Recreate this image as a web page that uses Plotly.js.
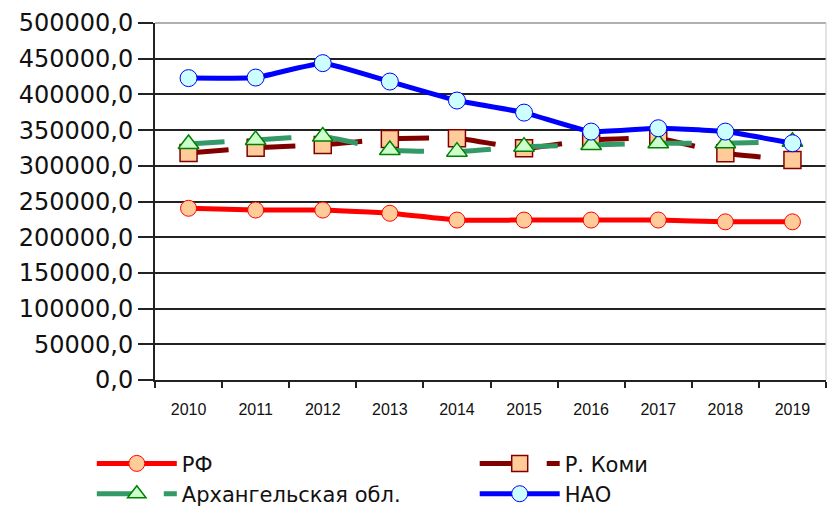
<!DOCTYPE html>
<html>
<head>
<meta charset="utf-8">
<script src="https://cdn.plot.ly/plotly-3.0.1.min.js"></script>
<style>html,body{margin:0;padding:0;background:#fff;}#chart{width:827px;height:506px;}</style>
</head>
<body>
<div id="chart"></div>
<script>
var years = ["2010","2011","2012","2013","2014","2015","2016","2017","2018","2019"];
var rf   = [240500, 238000, 238000, 233500, 224000, 224000, 224000, 224000, 221500, 221500];
var komi = [318000, 325400, 329200, 337600, 338600, 324500, 336200, 338600, 317500, 308100];
var arkh = [330600, 336200, 340900, 322200, 319800, 326800, 329200, 331600, 331600, 333800];
var nao  = [422800, 423600, 443800, 418000, 391400, 374500, 347900, 352600, 347900, 331600];
var names = ["РФ", "Р. Коми", "Архангельская обл.", "НАО"];
var yTicks = [0,50000,100000,150000,200000,250000,300000,350000,400000,450000,500000];
var yTickText = ["0,0","50000,0","100000,0","150000,0","200000,0","250000,0","300000,0","350000,0","400000,0","450000,0","500000,0"];

var traces = [
  {x: years, y: rf, name: names[0], type: 'scatter', mode: 'lines+markers', legend: 'legend',
   line: {color: '#FF0000', width: 5, shape: 'spline', smoothing: 0.4},
   marker: {symbol: 'circle', size: 16, color: '#FFCC99', line: {color: '#FF0000', width: 1}}},
  {x: years, y: komi, name: names[1], type: 'scatter', mode: 'lines+markers', legend: 'legend2',
   line: {color: '#800000', width: 5, dash: '40px,27px', shape: 'spline', smoothing: 0.4},
   marker: {symbol: 'square', size: 17, color: '#FFCC99', line: {color: '#800000', width: 1.5}}},
  {x: years, y: arkh, name: names[2], type: 'scatter', mode: 'lines+markers', legend: 'legend',
   line: {color: '#339966', width: 5, dash: '36px,31px', shape: 'spline', smoothing: 0.4},
   marker: {symbol: 'triangle-up', size: 18, color: '#CCFFCC', line: {color: '#008000', width: 1.5}}},
  {x: years, y: nao, name: names[3], type: 'scatter', mode: 'lines+markers', legend: 'legend2',
   line: {color: '#0000FF', width: 5, shape: 'spline', smoothing: 0.4},
   marker: {symbol: 'circle', size: 17, color: '#CCFFFF', line: {color: '#0000FF', width: 1}}}
];

var legendBase = {
  orientation: 'v', xref: 'container', yref: 'container',
  xanchor: 'left', yanchor: 'top', itemwidth: 80, tracegroupgap: 0,
  font: {family: 'DejaVu Sans, sans-serif', size: 21, color: '#111'},
  bgcolor: 'rgba(0,0,0,0)', traceorder: 'normal'
};

var layout = {
  width: 827, height: 506,
  margin: {l: 155, r: 1, t: 23, b: 126, autoexpand: false},
  paper_bgcolor: '#fff', plot_bgcolor: '#fff',
  font: {family: 'Liberation Sans, Arial, sans-serif', color: '#111'},
  xaxis: {
    type: 'category', range: [-0.5, 9.5], tickson: 'boundaries',
    ticks: 'outside', ticklen: 6, tickwidth: 2, tickcolor: '#222',
    showline: true, linecolor: '#222', linewidth: 2,
    showgrid: false, zeroline: false, automargin: false, tickangle: 0,
    tickfont: {size: 16, color: '#111'}, ticklabelstandoff: 14
  },
  yaxis: {
    range: [0, 500000], tickvals: yTicks, ticktext: yTickText,
    ticks: 'outside', ticklen: 15, tickwidth: 2, tickcolor: '#222',
    showline: true, linecolor: '#222', linewidth: 2, automargin: false,
    showgrid: true, gridcolor: '#222', gridwidth: 2, zeroline: false,
    tickfont: {family: 'DejaVu Sans, sans-serif', size: 24, color: '#111'}
  },
  showlegend: true,
  legend: Object.assign({}, legendBase, {x: 0.111, y: 0.124}),
  legend2: Object.assign({}, legendBase, {x: 0.574, y: 0.124}),
  shapes: [
    {type: 'line', xref: 'paper', yref: 'paper', x0: 0, x1: 1, y0: 1, y1: 1, line: {color: '#B0B0B0', width: 2}},
    {type: 'line', xref: 'paper', yref: 'paper', x0: 1, x1: 1, y0: 0, y1: 1, line: {color: '#C8C8C8', width: 1}}
  ]
};

Plotly.newPlot('chart', traces, layout, {displayModeBar: false, staticPlot: true});
</script>
</body>
</html>
